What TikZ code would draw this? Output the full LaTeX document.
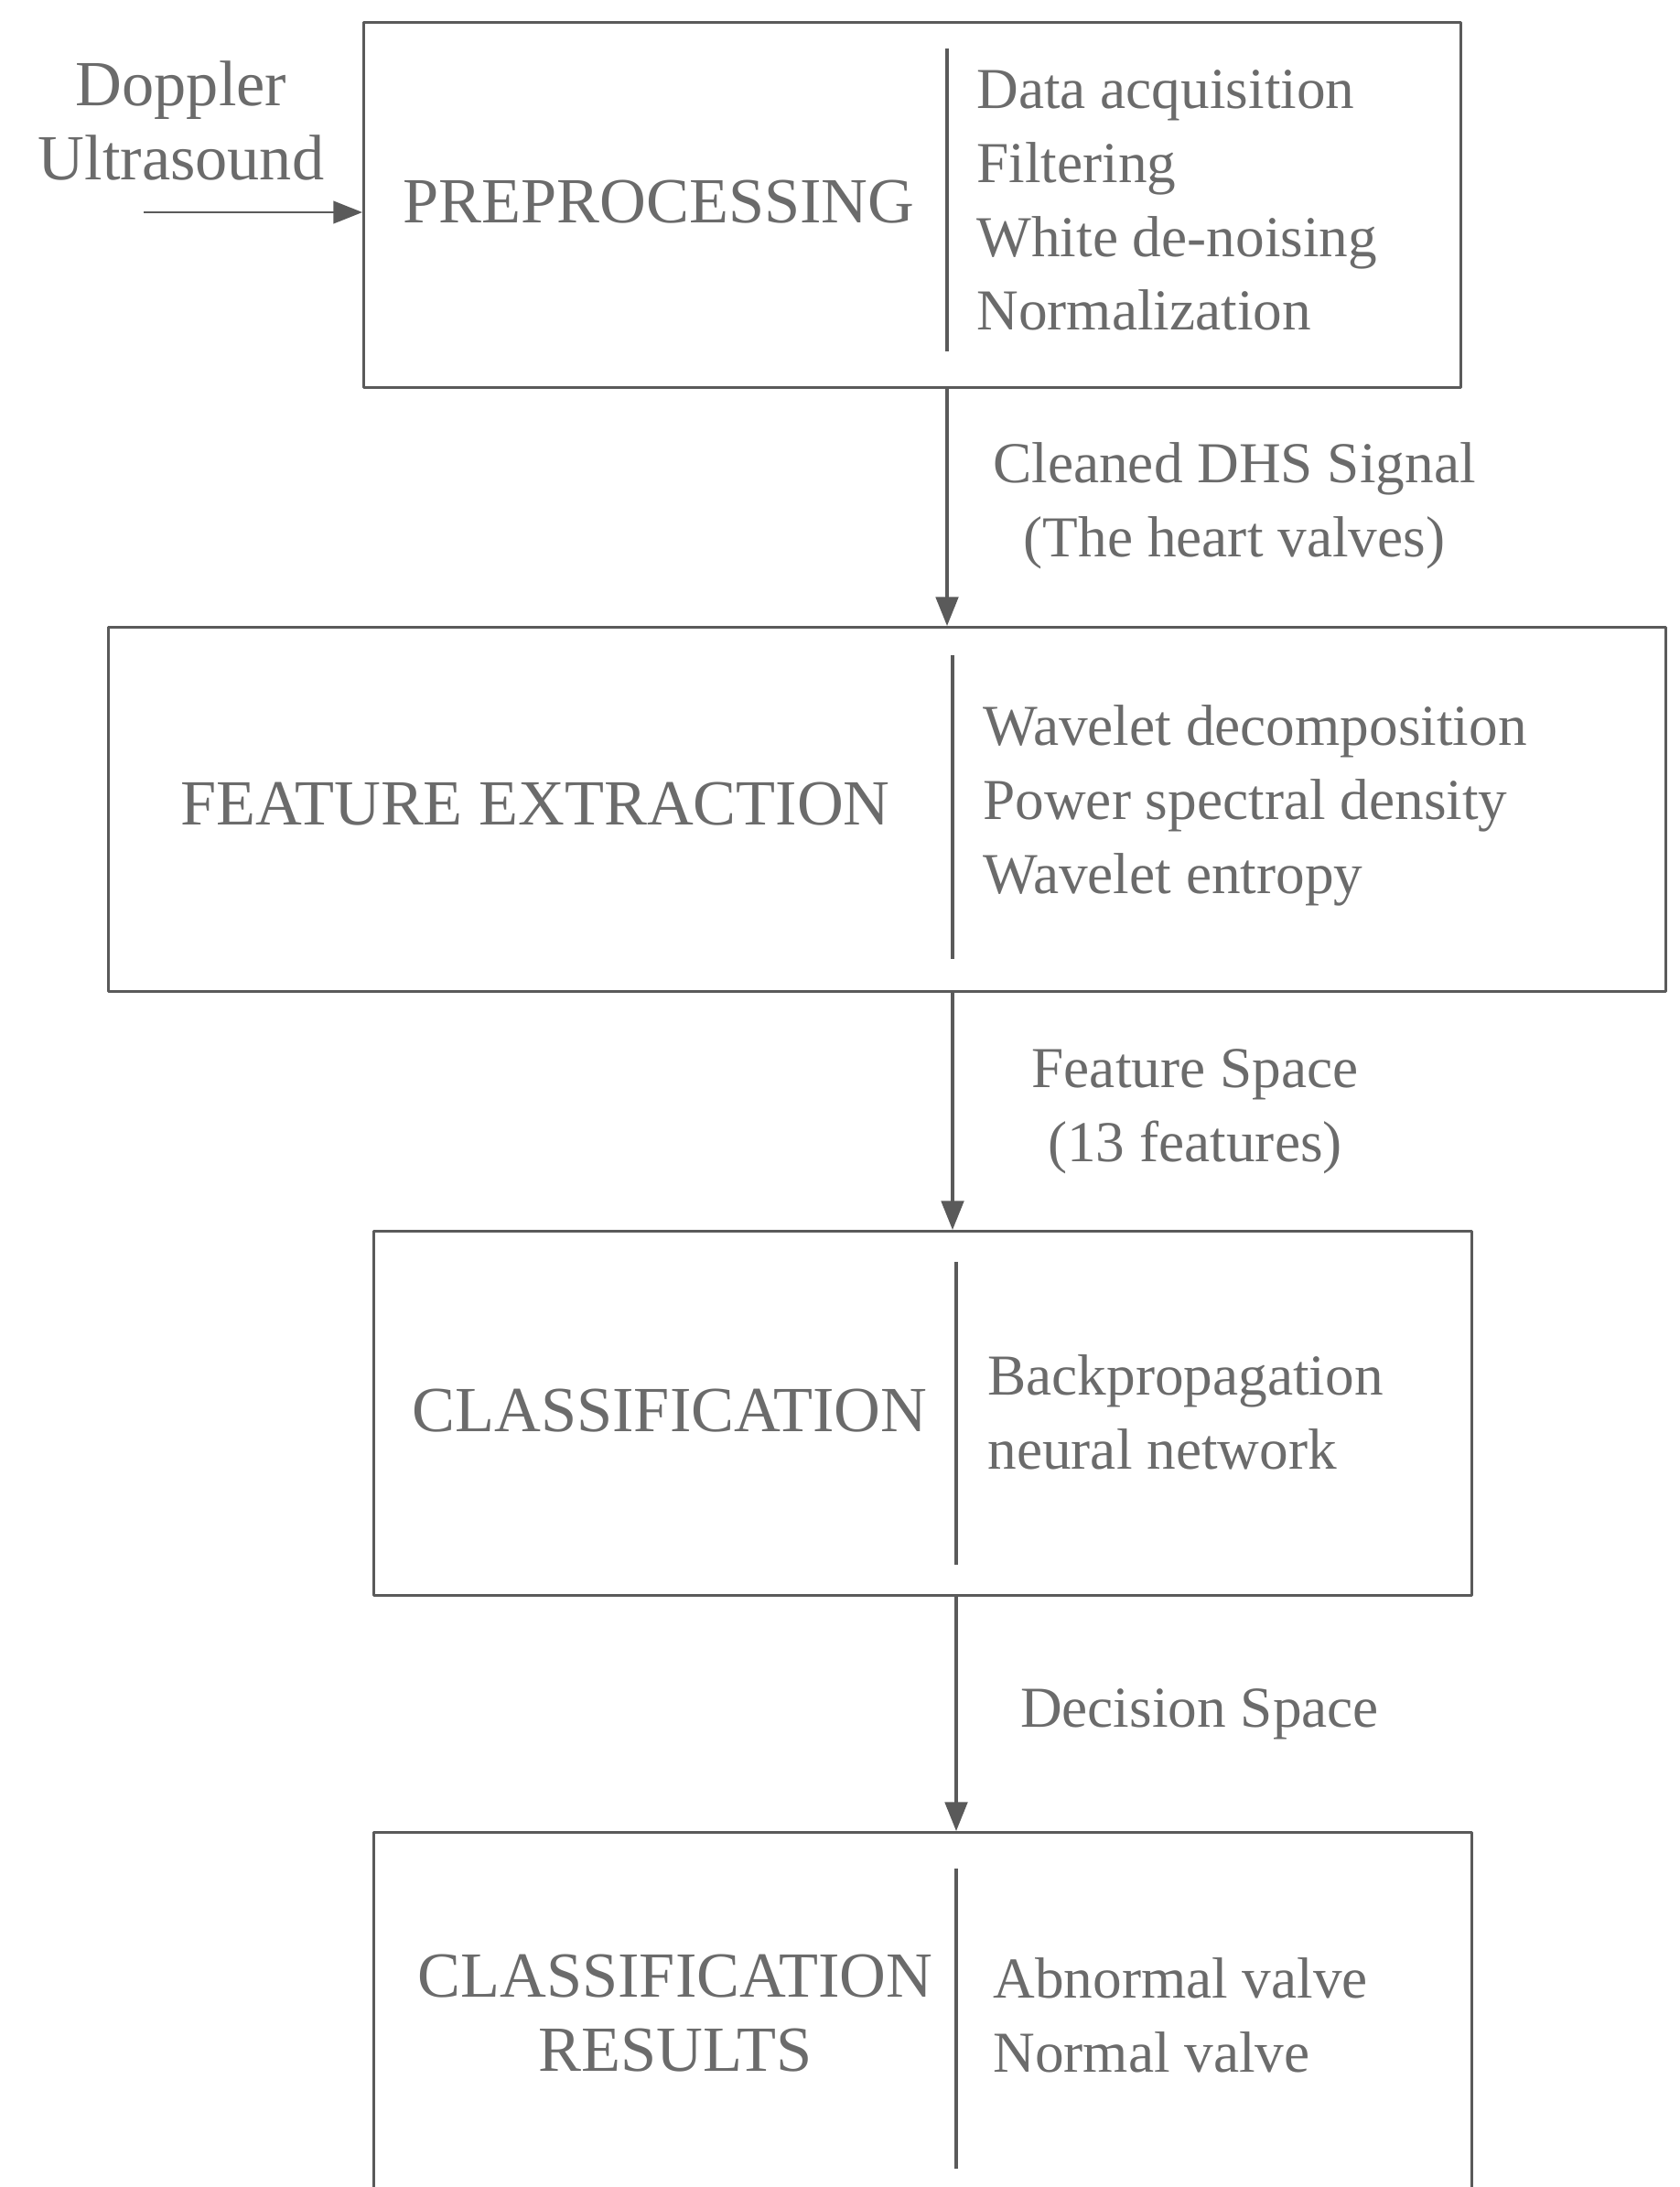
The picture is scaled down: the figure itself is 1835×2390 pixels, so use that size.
\documentclass[tikz,border=0pt]{standalone}
\usepackage{fontspec}
\setmainfont{Liberation Serif}
\usetikzlibrary{arrows.meta,calc,positioning}
\definecolor{inkgray}{HTML}{6B6B6B}
\definecolor{linegray}{HTML}{5A5A5A}
\tikzset{
  blockbox/.style={draw=linegray,line width=0.9pt,anchor=north west,inner sep=0pt},
  capstext/.style={text=inkgray,font=\fontsize{20}{23}\selectfont,align=center},
  labeltext/.style={text=inkgray,font=\fontsize{18}{23}\selectfont,align=center},
  itemtext/.style={text=inkgray,font=\fontsize{18}{23}\selectfont,align=left,anchor=west},
  flowarrow/.style={draw=linegray,line width=0.9pt,-{Triangle[length=9pt,width=7pt]}}
}

\begin{document}
\begin{tikzpicture}[x=0.01cm,y=-0.01cm,line join=round]
		\useasboundingbox (0,0) rectangle (1835,2390);
		\clip (0,0) rectangle (1835,2390);
		% blocks
		\node[blockbox,minimum width=11.98cm,minimum height=3.99cm] (pre) at (396,23) {};
		\node[blockbox,minimum width=17.01cm,minimum height=3.98cm] (fex) at (117,684) {};
		\node[blockbox,minimum width=11.99cm,minimum height=3.98cm] (cls) at (407,1344) {};
		\node[blockbox,minimum width=11.99cm,minimum height=5cm] (res) at (407,2001) {};
		% dividers
		\coordinate (d1) at (1035,53);
		\coordinate (d2) at (1041,716);
		\coordinate (d3) at (1045,1379);
		\coordinate (d4) at (1045,2042);
		\foreach \d/\yb in {d1/384,d2/1048,d3/1710,d4/2370}{\draw[linegray,line width=0.9pt] (\d) -- (\d |- 0,\yb);}
		% input
		\node[capstext] (src) at (198,132) {Doppler\\Ultrasound};
		\coordinate (srcend) at (157,232);
		\draw[flowarrow,line width=0.6pt] (srcend) -- (srcend -| pre.west);
		% flow
		\draw[flowarrow] (pre.south -| d1) -- (fex.north -| d1);
		\draw[flowarrow] (fex.south -| d2) -- (cls.north -| d2);
		\draw[flowarrow] (cls.south -| d3) -- (res.north -| d3);
		% texts
		\node[capstext] (prename) at (720,221) {PREPROCESSING};
		\node[itemtext] (preitems) at (1055,219) {Data acquisition\\Filtering\\White de-noising\\Normalization};
		\node[labeltext] (sig) at (1349,553) {Cleaned DHS Signal\\(The heart valves)};
		\node[capstext] (fexname) at (585,879) {FEATURE EXTRACTION};
		\node[itemtext] (fexitems) at (1062,880) {Wavelet decomposition\\Power spectral density\\Wavelet entropy};
		\node[labeltext] (fspace) at (1306,1215) {Feature Space\\(13 features)};
		\node[capstext] (clsname) at (732,1542) {CLASSIFICATION};
		\node[itemtext] (clsitems) at (1067,1543) {Backpropagation\\neural network};
		\node[labeltext] (dspace) at (1311,1873) {Decision Space};
		\node[capstext] (resname) at (738,2200) {CLASSIFICATION\\RESULTS};
		\node[itemtext] (resitems) at (1073,2202) {Abnormal valve\\Normal valve};
\end{tikzpicture}
\end{document}
